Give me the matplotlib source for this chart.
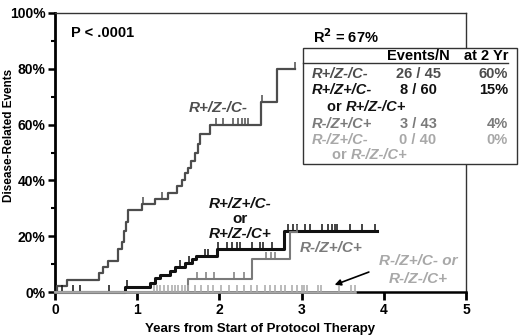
import numpy as np
import matplotlib
matplotlib.use("Agg")
import matplotlib.pyplot as plt
from matplotlib.patches import Rectangle

plt.rcParams['font.family'] = ['Liberation Sans', 'DejaVu Sans']

# step curves: (years, cumulative % of disease-related events)
c1_t = [0, 0.03, 0.15, 0.53, 0.59, 0.65, 0.77, 0.81, 0.84, 0.86, 0.89, 1.06, 1.22, 1.38,
        1.48, 1.54, 1.58, 1.62, 1.66, 1.70, 1.74, 1.77, 1.89, 2.50, 2.70, 2.92]
c1_y = [0, 2.2, 4.4, 6.7, 8.9, 11.1, 15.5, 18, 22, 25, 29.5, 31.5, 33.5, 35.5,
        38, 40, 42.5, 44.5, 47, 50, 53, 56.5, 60, 68, 80, 80]
c1_cens = [1.07, 1.30, 1.96, 2.04, 2.16, 2.23, 2.27, 2.31, 2.35, 2.52, 2.92]

c2_t = [0, 0.85, 1.15, 1.22, 1.28, 1.40, 1.46, 1.58, 1.67, 1.71, 1.97, 2.78, 3.92]
c2_y = [0, 1.7, 3.4, 5.1, 6.0, 7.5, 9.0, 10.5, 11.8, 13.0, 15.4, 22, 22]
c2_cens = [0.08, 0.22, 0.31, 0.66, 0.87, 1.52, 1.63, 1.82, 1.86, 1.98, 2.09, 2.15, 2.21,
           2.25, 2.40, 2.49, 2.53, 2.64, 2.83, 2.90, 2.94, 3.04, 3.10, 3.25, 3.32, 3.37,
           3.41, 3.43, 3.59, 3.73, 3.89]

c3_t = [0, 1.62, 2.40, 2.86, 2.95]
c3_y = [0, 4.5, 12, 21.5, 21.5]
c3_cens = [1.73, 1.84, 1.93, 2.18, 2.30, 2.57, 2.63, 2.68, 2.95]

c4_t = [0, 3.65]
c4_y = [0, 0]
c4_cens = [1.20, 1.24, 1.28, 1.33, 1.38, 1.42, 1.46, 1.50, 1.55, 1.58, 1.62, 1.70, 1.78,
           1.86, 1.92, 2.02, 2.12, 2.22, 2.30, 2.38, 2.46, 2.55, 2.62, 2.68, 2.75, 2.80,
           2.88, 2.95, 3.00, 3.03, 3.06, 3.20, 3.23, 3.45, 3.60, 3.65]

groups = ["R+/Z-/C-", "R+/Z+/C-", "R-/Z+/C+", "R-/Z+/C-"]
group_sub = [None, "or R+/Z-/C+", None, "or R-/Z-/C+"]
events_n = ["26 / 45", "8 / 60", "3 / 43", "0 / 40"]
at_2yr = ["60%", "15%", "4%", "0%"]
colors = ["#4d4d4d", "#111111", "#7a7a7a", "#a8a8a8"]

fig = plt.figure(figsize=(5.2, 3.35), dpi=100)
ax = fig.add_axes([55 / 520, 1 - 292 / 335, (466 - 55) / 520, (292 - 13) / 335])


def step_at(ts, ys, x):
    i = np.searchsorted(ts, x, side='right') - 1
    return ys[max(i, 0)]


curves = [(c1_t, c1_y, c1_cens, 1.6), (c2_t, c2_y, c2_cens, 2.2),
          (c3_t, c3_y, c3_cens, 1.5), (c4_t, c4_y, c4_cens, 1.8)]
order = [3, 2, 0, 1]
for k in order:
    ts, ys, cens, lw = curves[k]
    ax.step(ts, ys, where='post', color=colors[k], lw=lw, clip_on=False, zorder=3 + k)
    cy = [step_at(ts, ys, c) for c in cens]
    ax.vlines(cens, cy, np.array(cy) + 2.5, color=colors[k], lw=1.1, clip_on=False, zorder=3 + k)

ax.set_xlim(0, 5)
ax.set_ylim(0, 100)
ax.set_xticks(range(6))
ax.set_yticks(range(0, 101, 20))
ax.set_yticks(range(10, 100, 20), minor=True)
ax.set_yticklabels([f"{v}%" for v in range(0, 101, 20)])
for lab in ax.get_xticklabels() + ax.get_yticklabels():
    lab.set_fontweight('bold')
    lab.set_fontsize(10)
ax.tick_params(axis='x', direction='out', length=6, width=2, pad=2)
ax.tick_params(axis='y', which='major', direction='out', length=5, width=1.8, pad=2)
ax.tick_params(axis='y', which='minor', direction='out', length=3, width=1.5)
ax.spines['left'].set_linewidth(2)
ax.spines['bottom'].set_linewidth(1.8)
for s in ['top', 'right']:
    ax.spines[s].set_linewidth(1)
    ax.spines[s].set_color('#333333')

ax.set_xlabel("Years from Start of Protocol Therapy", fontsize=9.5, fontweight='bold', labelpad=4)
ax.set_ylabel("Disease-Related Events", fontsize=8.5, fontweight='bold')
ax.yaxis.set_label_coords(-0.098, 0.56)

ax.text(0.04, 0.928, "P < .0001", transform=ax.transAxes, fontsize=10.5, fontweight='bold',
        va='center')


def fx(px):
    return px / 520


def fy(py):
    return 1 - py / 335


fig.text(fx(313), fy(37), "R$^{\\mathbf{2}}$ = 67%", fontsize=10.5, fontweight='bold', va='center')

# curve labels
lab_kw = dict(fontsize=11, fontweight='bold', style='italic', ha='center', va='center')
fig.text(fx(218), fy(108), groups[0], color=colors[0], **lab_kw)
fig.text(fx(240), fy(204), groups[1], color=colors[1], **lab_kw)
fig.text(fx(240), fy(219), "or", color=colors[1], fontsize=11, fontweight='bold', ha='center', va='center')
fig.text(fx(240), fy(234), group_sub[1][3:], color=colors[1], **lab_kw)
fig.text(fx(331), fy(248), groups[2], color=colors[2], **lab_kw)
fig.text(fx(418), fy(261), groups[3] + " or", color=colors[3], **lab_kw)
fig.text(fx(418), fy(279), group_sub[3][3:], color=colors[3], **lab_kw)
ax.annotate("", xy=(3.37, 2.2), xytext=(3.85, 7.5),
            arrowprops=dict(arrowstyle='-|>', color='black', lw=1.2, mutation_scale=9))

# table box
fig.patches.append(Rectangle((fx(303), fy(164)), (517 - 303) / 520, (164 - 48) / 335,
                             transform=fig.transFigure, facecolor='white',
                             edgecolor='#333333', lw=1, zorder=10))
fig.lines.append(plt.Line2D([fx(303), fx(508)], [fy(63), fy(63)], transform=fig.transFigure,
                            color='#333333', lw=1, zorder=11))
hdr = dict(fontsize=10.5, fontweight='bold', va='center', zorder=12)
fig.text(fx(418), fy(56), "Events/N", ha='center', **hdr)
fig.text(fx(508), fy(56), "at 2 Yr", ha='right', **hdr)
row_y = [74, 90, 124, 140]
sub_y = [None, 107, None, 155]
sub_x = [None, 327, None, 332]
for i in range(4):
    kw = dict(fontsize=10.5, fontweight='bold', va='center', color=colors[i], zorder=12)
    fig.text(fx(312), fy(row_y[i]), groups[i], style='italic', **kw)
    fig.text(fx(418), fy(row_y[i]), events_n[i], ha='center', **kw)
    fig.text(fx(508), fy(row_y[i]), at_2yr[i], ha='right', **kw)
    if group_sub[i]:
        t = fig.text(fx(sub_x[i]), fy(sub_y[i]), "or ", **kw)
        fig.canvas.draw()
        bb = t.get_window_extent()
        fig.text(bb.x1 / fig.bbox.width, fy(sub_y[i]), group_sub[i][3:], style='italic', **kw)

fig.savefig("out.png", dpi=100)
